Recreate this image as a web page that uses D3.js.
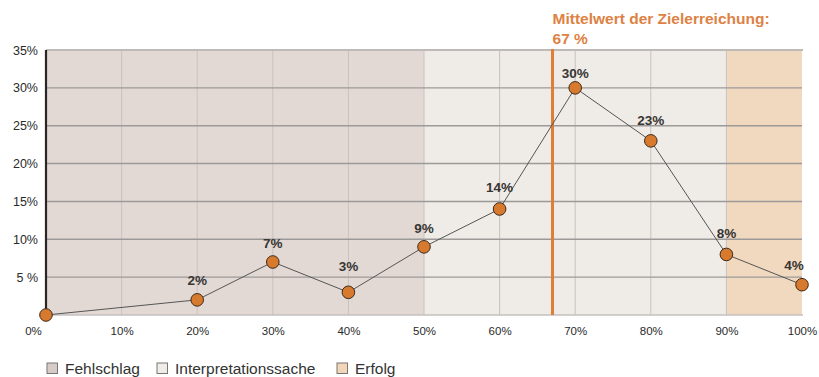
<!DOCTYPE html>
<html>
<head>
<meta charset="utf-8">
<script src="https://cdn.jsdelivr.net/npm/d3@7"></script>
<style>
  html, body { margin: 0; padding: 0; background: #fff; }
  svg { display: block; font-family: "Liberation Sans", Arial, Helvetica, sans-serif; }
</style>
</head>
<body>
<svg id="chart" width="819" height="377"></svg>
<script>
// Zielerreichung (x) und Anteil der Projekte (y), jeweils in Prozent
const achievement = [0, 20, 30, 40, 50, 60, 70, 80, 90, 100];
const share = [0, 2, 7, 3, 9, 14, 30, 23, 8, 4];
const xTicks = [0, 10, 20, 30, 40, 50, 60, 70, 80, 90, 100];
const yTicks = [5, 10, 15, 20, 25, 30, 35];
const meanAchievement = 67;

// Bewertungsbereiche
const zoneNames = ["Fehlschlag", "Interpretationssache", "Erfolg"];
const zoneStart = [0, 50, 90];
const zoneEnd = [50, 90, 100];
const zoneColors = ["#e2d9d5", "#efebe7", "#f0d9bf"];
const legendColors = ["#d6cbc6", "#f0ece8", "#f1d6b7"];

const svg = d3.select("#chart");
const margin = { left: 46, right: 17, top: 50, bottom: 62 };
const W = 819, H = 377;

const x = d3.scaleLinear().domain([0, 100]).range([margin.left, W - margin.right]);
const y = d3.scaleLinear().domain([0, 35]).range([H - margin.bottom, margin.top]);

// Hintergrundbereiche
svg.append("g").selectAll("rect")
  .data(zoneNames)
  .join("rect")
  .attr("x", (d, i) => x(zoneStart[i]))
  .attr("y", y(35))
  .attr("width", (d, i) => x(zoneEnd[i]) - x(zoneStart[i]))
  .attr("height", y(0) - y(35))
  .attr("fill", (d, i) => zoneColors[i]);

// Vertikale Hilfslinien
svg.append("g").selectAll("line")
  .data(xTicks.filter(t => t > 0 && t < 100))
  .join("line")
  .attr("x1", d => x(d)).attr("x2", d => x(d))
  .attr("y1", y(35)).attr("y2", y(0))
  .attr("stroke", "#cbc2be").attr("stroke-width", 1);

// Horizontale Hilfslinien
svg.append("g").selectAll("line")
  .data(yTicks.filter(t => t < 35))
  .join("line")
  .attr("x1", x(0)).attr("x2", x(100))
  .attr("y1", d => y(d)).attr("y2", d => y(d))
  .attr("stroke", "#9c9a99").attr("stroke-width", 1.4);

// Rahmenlinien oben und unten
svg.append("line")
  .attr("x1", x(0)).attr("x2", x(100) + 1)
  .attr("y1", y(35)).attr("y2", y(35))
  .attr("stroke", "#bdbab8").attr("stroke-width", 2);
svg.append("line")
  .attr("x1", x(0)).attr("x2", x(100) + 1)
  .attr("y1", y(0)).attr("y2", y(0))
  .attr("stroke", "#c4c1bf").attr("stroke-width", 1.5);

// Y-Achse
const yAxis = d3.axisLeft(y)
  .tickValues(yTicks)
  .tickSize(0)
  .tickPadding(8)
  .tickFormat(d => d === 5 ? "5 %" : d + "%");
const gy = svg.append("g").attr("transform", `translate(${x(0)},0)`).call(yAxis);
gy.select(".domain").remove();
gy.selectAll("text").attr("font-size", 12.5).attr("fill", "#2a2a2a")
  .attr("font-family", "'Liberation Sans', Arial, sans-serif");

svg.append("line")
  .attr("x1", x(0)).attr("x2", x(0))
  .attr("y1", y(35)).attr("y2", y(0))
  .attr("stroke", "#2b2626").attr("stroke-width", 2.2);

// X-Achse
const xAxis = d3.axisBottom(x)
  .tickValues(xTicks)
  .tickSize(0)
  .tickPadding(12)
  .tickFormat(d => d + "%");
const gx = svg.append("g").attr("transform", `translate(0,${y(0)})`).call(xAxis);
gx.select(".domain").remove();
gx.selectAll("text").attr("font-size", 11.5).attr("fill", "#2a2a2a")
  .attr("font-family", "'Liberation Sans', Arial, sans-serif")
  .attr("dx", d => d === 0 ? -13 : 0);

// Mittelwertlinie
svg.append("line")
  .attr("x1", x(meanAchievement)).attr("x2", x(meanAchievement))
  .attr("y1", y(35) - 1).attr("y2", y(0))
  .attr("stroke", "#df7e35").attr("stroke-width", 3);
const meanLabel = svg.append("text")
  .attr("x", x(meanAchievement))
  .attr("fill", "#dd8244")
  .attr("font-size", 15.5)
  .attr("font-weight", "bold");
meanLabel.append("tspan").attr("x", x(meanAchievement)).attr("y", 24).text("Mittelwert der Zielerreichung:");
meanLabel.append("tspan").attr("x", x(meanAchievement)).attr("y", 44).text(meanAchievement + " %");

// Verbindungslinie
const points = achievement.map((a, i) => ({ a, s: share[i] }));
svg.append("path")
  .datum(points)
  .attr("fill", "none")
  .attr("stroke", "#555")
  .attr("stroke-width", 1)
  .attr("d", d3.line().x(d => x(d.a)).y(d => y(d.s)));

// Datenpunkte
svg.append("g").selectAll("circle")
  .data(points)
  .join("circle")
  .attr("cx", d => x(d.a))
  .attr("cy", d => y(d.s))
  .attr("r", 6.3)
  .attr("fill", "#d87a2d")
  .attr("stroke", "#3b2a1c")
  .attr("stroke-width", 1);

// Wertbeschriftungen
const labelLift = { 3: 21, 30: 10, 4: 15, 14: 17, 2: 15, 23: 16, 8: 16 };
const labelShift = { 4: -8 };
svg.append("g").selectAll("text")
  .data(points.filter(d => d.s > 0))
  .join("text")
  .attr("x", d => x(d.a) + (labelShift[d.s] || 0))
  .attr("y", d => y(d.s) - (labelLift[d.s] || 14))
  .attr("text-anchor", "middle")
  .attr("font-size", 13.5)
  .attr("font-weight", "bold")
  .attr("fill", "#383533")
  .text(d => d.s + "%");

// Legende
const legendX = [47, 157, 337];
const legend = svg.append("g").selectAll("g")
  .data(zoneNames)
  .join("g")
  .attr("transform", (d, i) => `translate(${legendX[i]},363)`);
legend.append("rect")
  .attr("width", 10.5).attr("height", 10.5)
  .attr("fill", (d, i) => legendColors[i])
  .attr("stroke", "#7a7675").attr("stroke-width", 1);
legend.append("text")
  .attr("x", 18).attr("y", 10.5)
  .attr("font-size", 15.5)
  .attr("fill", "#333")
  .text(d => d);
</script>
</body>
</html>
